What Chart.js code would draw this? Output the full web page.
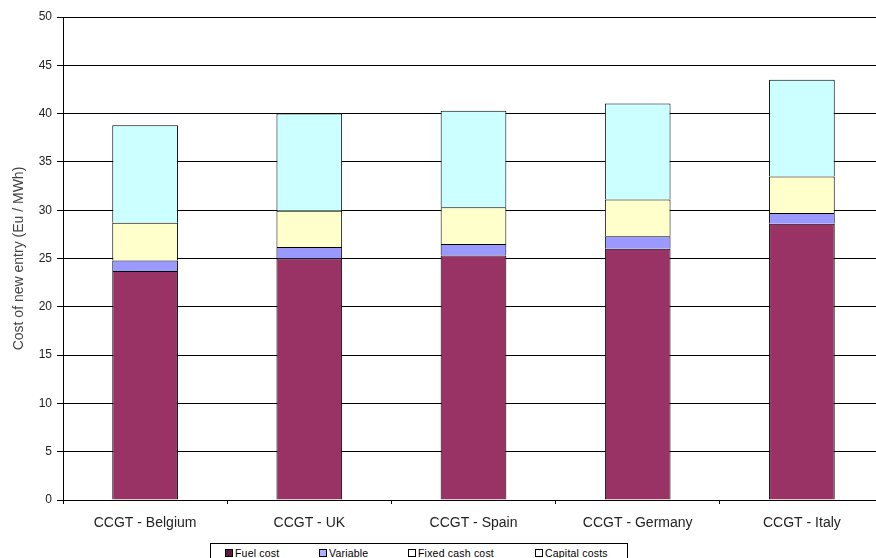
<!DOCTYPE html>
<html>
<head>
<meta charset="utf-8">
<script src="https://cdn.jsdelivr.net/npm/chart.js@4.4.0/dist/chart.umd.min.js"></script>
<style>
    html, body { margin: 0; padding: 0; background: #fff; overflow: hidden; }
    #wrap { position: relative; width: 876px; height: 558px; overflow: hidden; }
    #holder { position: absolute; left: 0; top: 0; width: 884px; height: 558px; }
    #legend {
        position: absolute; left: 210px; top: 543px; width: 416px; height: 20px;
        border: 1px solid #000; background: #fff;
        font-family: "Liberation Sans", Arial, sans-serif; font-size: 10.5px; color: #000;
        letter-spacing: 0.2px;
    }
    #legend span.item { position: absolute; top: 3px; white-space: nowrap; }
    #legend i { display: inline-block; width: 6px; height: 6px; border: 1px solid #000; margin-right: 2px; vertical-align: 0; }
</style>
</head>
<body>
<div id="wrap">
    <div id="holder"><canvas id="myChart"></canvas></div>
    <div id="legend"></div>
</div>
<script>
    const categories = ['CCGT - Belgium', 'CCGT - UK', 'CCGT - Spain', 'CCGT - Germany', 'CCGT - Italy'];
    const fuelCost = [23.7, 25.0, 25.3, 26.0, 28.6];
    const variableCost = [1.1, 1.2, 1.2, 1.3, 1.1];
    const fixedCashCost = [3.9, 3.75, 3.8, 3.8, 3.8];
    const capitalCosts = [10.1, 10.05, 10.0, 9.95, 10.0];
    const seriesNames = ['Fuel cost', 'Variable', 'Fixed cash cost', 'Capital costs'];
    const seriesColors = ['#993366', '#9999ff', '#ffffcc', '#ccffff'];
    const yTicks = [0, 5, 10, 15, 20, 25, 30, 35, 40, 45, 50];

    (function () {
        const ctx = document.getElementById('myChart');
        const values = [fuelCost, variableCost, fixedCashCost, capitalCosts];

        const data = {
            labels: categories,
            datasets: seriesNames.map((name, i) => ({
                label: name,
                data: values[i],
                backgroundColor: seriesColors[i],
                borderColor: '#000',
                borderWidth: 1,
                barPercentage: 0.4,
                categoryPercentage: 1
            }))
        };

        const family = '"Liberation Sans", Arial, sans-serif';

        const config = {
            type: 'bar',
            data: data,
            options: {
                responsive: false,
                animation: false,
                layout: { padding: { top: 17, right: 0, left: 0, bottom: 0 } },
                scales: {
                    x: {
                        stacked: true,
                        grid: {
                            offset: true,
                            drawOnChartArea: false,
                            color: '#000',
                            tickLength: 4
                        },
                        border: { color: '#000' },
                        ticks: { color: '#222', font: { family: family, size: 14 }, padding: 11 },
                        afterFit: s => { s.height = 58; }
                    },
                    y: {
                        stacked: true,
                        min: 0,
                        max: 50,
                        afterBuildTicks: s => { s.ticks = yTicks.map(v => ({ value: v })); },
                        grid: { color: '#000', tickLength: 6 },
                        border: { color: '#000' },
                        ticks: { color: '#222', font: { family: family, size: 12 }, padding: 5 },
                        title: {
                            display: true,
                            text: 'Cost of new entry (Eu / MWh)',
                            color: '#444',
                            font: { family: family, size: 14 },
                            padding: { top: 11, bottom: 0 }
                        },
                        afterFit: s => { s.width = 63; }
                    }
                },
                plugins: {
                    legend: { display: false },
                    tooltip: { enabled: false }
                }
            }
        };

        ctx.width = 884;
        ctx.height = 558;
        new Chart(ctx, config);

        const legend = document.getElementById('legend');
        const itemLeft = [14, 108, 197, 324];
        seriesNames.forEach((name, i) => {
            const span = document.createElement('span');
            span.className = 'item';
            span.style.left = itemLeft[i] + 'px';
            const box = document.createElement('i');
            box.style.background = i === 0 ? '#5a1e3c' : (i === 1 ? '#b0b0ff' : '#fff');
            span.appendChild(box);
            span.appendChild(document.createTextNode(name));
            legend.appendChild(span);
        });
    })();
</script>
</body>
</html>
